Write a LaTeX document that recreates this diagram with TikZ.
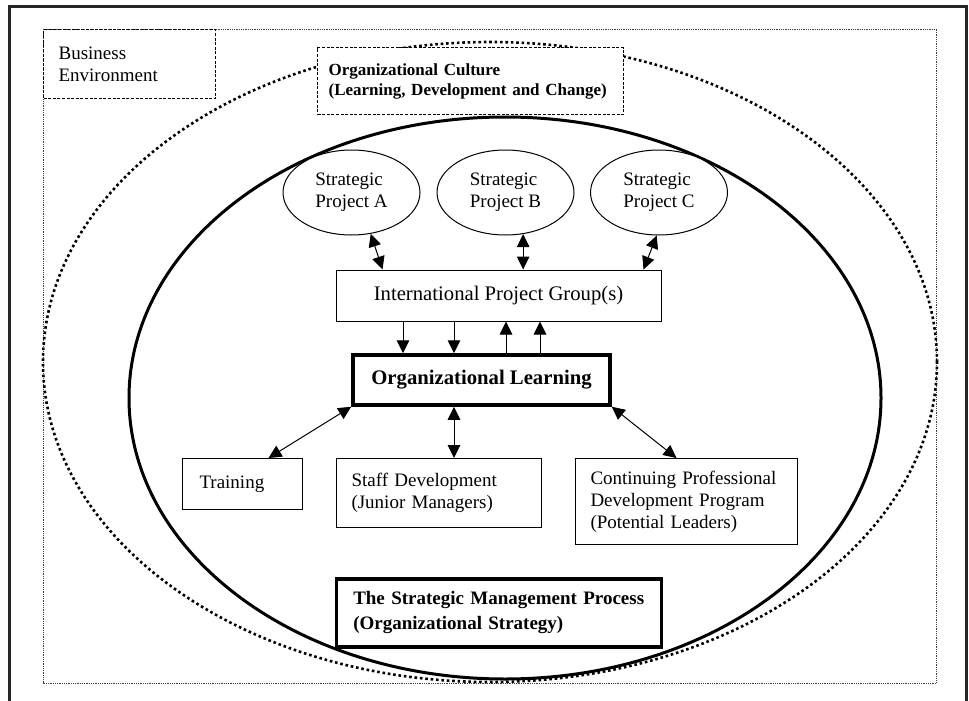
\documentclass[tikz,border=0pt]{standalone}
\usepackage{fontspec}
\setmainfont{Liberation Serif}
\usetikzlibrary{arrows.meta,shapes.geometric}

\begin{document}
\begin{tikzpicture}[x=1pt,y=-1pt,
    txt/.style={font=\fontsize{19}{22}\selectfont},
    plainbox/.style={draw,line width=1pt,fill=white,inner ysep=0pt,anchor=north west,align=left,txt},
    boldbox/.style={draw,line width=3.5pt,fill=white,inner sep=0pt,font=\bfseries\fontsize{20.7}{24}\selectfont},
    project/.style={draw,ellipse,line width=1pt,fill=white,inner sep=0pt,minimum width=137pt,minimum height=85pt,align=left,txt},
    dashbox/.style={draw,line width=1.2pt,dash pattern=on 3pt off 1.6pt,fill=white,anchor=north west,inner ysep=0pt,align=left},
    tip/.style={line width=1pt,-{Triangle[length=13pt,width=12.5pt]}},
    both/.style={line width=1pt,{Triangle[length=13pt,width=12.5pt]}-{Triangle[length=13pt,width=12.5pt]}}]

    \path[use as bounding box,fill=white] (0,0) rectangle (969,701);

    % Outer frame, open at the bottom
    \draw[line width=3pt,black!85] (9,710) -- (9,6.5) -- (966.5,6.5) -- (966.5,710);

    % Business environment
    \draw[line width=0.9pt,black!75,dash pattern=on 0.9pt off 0.9pt] (43,29) rectangle (936.5,683);
    \node[dashbox,txt,minimum width=172pt,minimum height=69pt,inner xsep=15pt,text width=142pt] (env) at (43,29) {Business\\Environment};

    % Organizational culture
    \draw[line width=2.6pt,dash pattern=on 2.6pt off 2.8pt] (490,362) ellipse [x radius=447pt,y radius=320pt];
    \node[dashbox,font=\bfseries\fontsize{17}{20}\selectfont,minimum width=306pt,minimum height=67pt,inner xsep=11pt,text width=284pt] (culture) at (317,47) {Organizational Culture\\(Learning, Development and Change)};

    % Strategy ellipse
    \draw[line width=3pt] (505,398) ellipse [x radius=376pt,y radius=281pt];

    % Strategic projects
    \node[project] (pa) at (351.5,192.5) {Strategic\\Project A};
    \node[project] (pb) at (505.5,192.5) {Strategic\\Project B};
    \node[project] (pc) at (659,192.5) {Strategic\\Project C};

    % Project group and learning
    \node[draw,line width=1pt,fill=white,inner sep=0pt,minimum width=325pt,minimum height=51pt,font=\fontsize{20.7}{24}\selectfont] (ipg) at (498.5,295.5) {International Project Group(s)};
    \node[boldbox,minimum width=257pt,minimum height=50pt] (ol) at (481.5,380) {Organizational Learning};

    % Development activities
    \node[plainbox,minimum height=51pt,inner xsep=17pt,text width=86pt] (train) at (182,458) {Training};
    \node[plainbox,minimum height=69pt,inner xsep=15pt,text width=175pt] (staff) at (336,458) {Staff Development\\(Junior Managers)};
    \node[plainbox,minimum height=86pt,inner xsep=15pt,text width=192pt] (cpd) at (575,458) {Continuing Professional\\Development Program\\(Potential Leaders)};

    % Strategic management process
    \node[boldbox,anchor=north west,align=left,minimum height=68pt,inner xsep=17pt,text width=291pt,font=\bfseries\fontsize{19}{25}\selectfont] (smp) at (334.5,577) {The Strategic Management Process\\(Organizational Strategy)};

    % Connectors
    \draw[both] ([xshift=47pt]ipg.north west) -- (pa.-65);
    \draw[both] (pb.-67) -- (pb.-67 |- ipg.north);
    \draw[both] ([xshift=-18pt]ipg.north east) -- (pc.-93);
    \foreach \x in {403,454} \draw[tip] (\x,0 |- ipg.south) -- (\x,0 |- ol.north);
    \foreach \x in {506,540} \draw[tip] (\x,0 |- ol.north) -- (\x,0 |- ipg.south);
    \draw[both] (ol.south west) -- ([xshift=26pt]train.north);
    \draw[both] (454,0 |- ol.south) -- (454,0 |- staff.north);
    \draw[both] (ol.south east) -- ([xshift=-10pt]cpd.north);
\end{tikzpicture}
\end{document}
